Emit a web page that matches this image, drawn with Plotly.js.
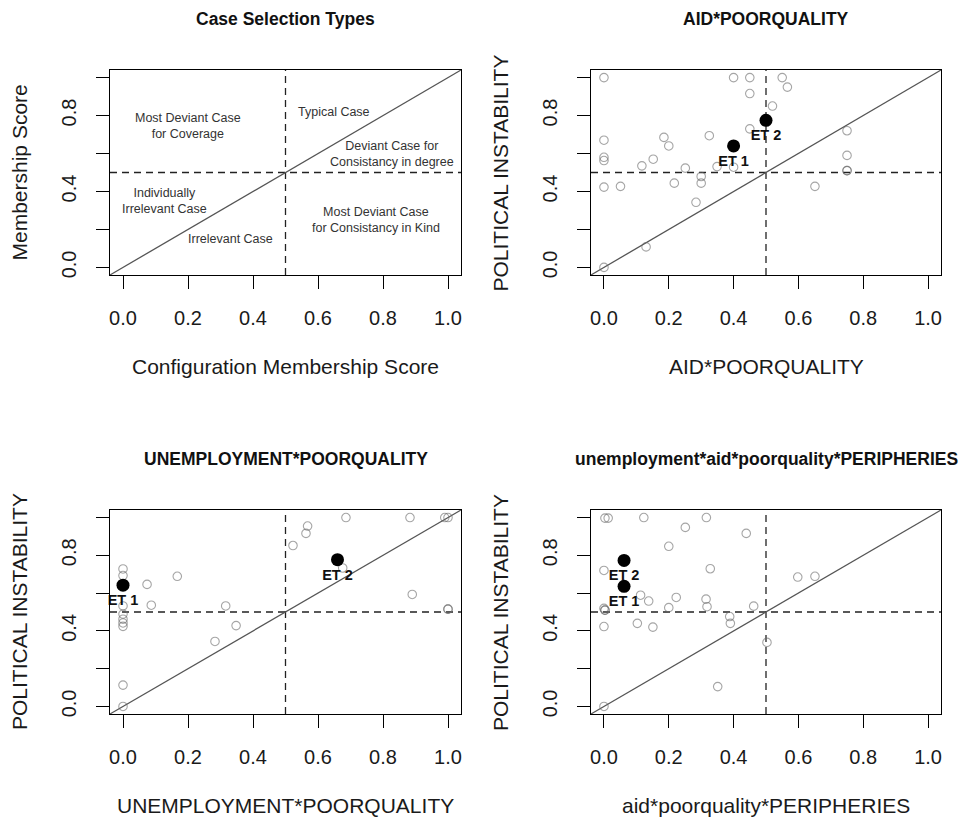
<!DOCTYPE html>
<html>
<head>
<meta charset="utf-8">
<script src="https://cdn.plot.ly/plotly-3.0.1.min.js"></script>
<style>html,body{margin:0;padding:0;background:#fff;}#chart{width:965px;height:819px;}</style>
</head>
<body>
<div id="chart"></div>
<script>
// ---------- DATA ----------
const panelTitles = ["Case Selection Types", "AID*POORQUALITY", "UNEMPLOYMENT*POORQUALITY", "unemployment*aid*poorquality*PERIPHERIES"];
const xTitles = ["Configuration Membership Score", "AID*POORQUALITY", "UNEMPLOYMENT*POORQUALITY", "aid*poorquality*PERIPHERIES"];
const yTitles = ["Membership Score", "POLITICAL INSTABILITY", "POLITICAL INSTABILITY", "POLITICAL INSTABILITY"];

const tickVals = [0, 0.2, 0.4, 0.6, 0.8, 1.0];
const xTickText = ["0.0", "0.2", "0.4", "0.6", "0.8", "1.0"];
const yTickText = ["0.0", "", "0.4", "", "0.8", ""];
const threshold = [0.5];

// Panel 1: region labels
const regionLabels = ["Most Deviant Case<br>for Coverage", "Typical Case", "Deviant Case for<br>Consistancy in degree",
  "Individually<br>Irrelevant Case", "Irrelevant Case", "Most Deviant Case<br>for Consistancy in Kind"];
const regionX = [0.20, 0.648, 0.829, 0.128, 0.33, 0.777];
const regionY = [0.746, 0.817, 0.595, 0.35, 0.148, 0.249];

// Panel 2: AID*POORQUALITY
const p2x = [0, 0.4, 0.45, 0.55, 0.566, 0.45, 0.52, 0.45, 0, 0.185, 0.2, 0.325, 0, 0, 0.152, 0.117, 0.251, 0.349, 0.4, 0.3, 0.3, 0.217, 0, 0.051, 0.284, 0.13, 0, 0.75, 0.75, 0.75, 0.75, 0.651];
const p2y = [1, 1, 1, 1, 0.95, 0.916, 0.85, 0.73, 0.67, 0.685, 0.64, 0.694, 0.58, 0.563, 0.57, 0.535, 0.523, 0.531, 0.528, 0.479, 0.444, 0.444, 0.423, 0.427, 0.343, 0.108, 0, 0.72, 0.59, 0.51, 0.51, 0.427];
const p2etX = [0.4, 0.5];
const p2etY = [0.64, 0.775];

// Panel 3: UNEMPLOYMENT*POORQUALITY
const p3x = [0, 0, 0, 0, 0, 0, 0, 0, 0, 0.074, 0.087, 0.167, 0.316, 0.283, 0.348, 0.523, 0.563, 0.568, 0.686, 0.883, 0.99, 1.0, 0.676, 0.89, 1.0, 1.0];
const p3y = [0, 0.113, 0.728, 0.693, 0.532, 0.489, 0.462, 0.442, 0.424, 0.646, 0.536, 0.689, 0.532, 0.344, 0.428, 0.852, 0.916, 0.955, 1.0, 1.0, 1.0, 1.0, 0.733, 0.593, 0.515, 0.515];
const p3etX = [0, 0.66];
const p3etY = [0.642, 0.777];

// Panel 4: unemployment*aid*poorquality*PERIPHERIES
const p4x = [0, 0.003, 0.013, 0.123, 0.316, 0.251, 0.439, 0.2, 0.328, 0, 0.062, 0.113, 0.138, 0.223, 0.315, 0.2, 0.318, 0.462, 0, 0.003, 0.003, 0.388, 0.39, 0, 0.103, 0.151, 0.503, 0.351, 0.598, 0.651];
const p4y = [0, 0.997, 0.997, 1.0, 1.0, 0.948, 0.916, 0.848, 0.729, 0.72, 0.636, 0.589, 0.558, 0.577, 0.568, 0.523, 0.528, 0.531, 0.519, 0.51, 0.51, 0.476, 0.44, 0.423, 0.44, 0.42, 0.339, 0.105, 0.685, 0.689];
const p4etX = [0.062, 0.062];
const p4etY = [0.636, 0.773];

const etLabels = ["ET 1", "ET 2"];

// ---------- LAYOUT ----------
const W = 965, H = 819;
const FONT = "Liberation Sans, Arial, Helvetica, sans-serif";
const colBox = [[110, 461], [591, 941]];
const rowBox = [[70, 275], [510, 714]];
const boxes = [[0, 0], [1, 0], [0, 1], [1, 1]].map(([c, r]) => ({
  x: [colBox[c][0] / W, colBox[c][1] / W],
  y: [1 - rowBox[r][1] / H, 1 - rowBox[r][0] / H],
  px: colBox[c], py: rowBox[r]
}));

const layout = {
  width: W, height: H,
  margin: {l: 0, r: 0, t: 0, b: 0},
  paper_bgcolor: "#fff", plot_bgcolor: "#fff",
  showlegend: false,
  font: {family: FONT, color: "#111"},
  shapes: [], annotations: []
};

function axisX(b, anchor) {
  return {domain: b.x, anchor: anchor, range: [-0.04, 1.04], tickmode: "array", tickvals: tickVals, ticktext: xTickText,
    ticks: "outside", ticklen: 13, tickwidth: 1, tickcolor: "#000", showline: true, linecolor: "#000", linewidth: 1,
    mirror: true, showgrid: false, zeroline: false, ticklabelstandoff: 12,
    tickfont: {size: 20, color: "#1a1a1a", family: FONT}, fixedrange: true};
}
function axisY(b, anchor) {
  return {domain: b.y, anchor: anchor, range: [-0.04, 1.04], tickmode: "array", tickvals: tickVals, ticktext: yTickText,
    ticks: "outside", ticklen: 13, tickwidth: 1, tickcolor: "#000", showline: true, linecolor: "#000", linewidth: 1,
    mirror: true, showgrid: false, zeroline: false, tickangle: -90, ticklabelstandoff: 12,
    tickfont: {size: 20, color: "#1a1a1a", family: FONT}, fixedrange: true};
}

const data = [];
boxes.forEach((b, i) => {
  const n = i === 0 ? "" : String(i + 1);
  layout["xaxis" + n] = axisX(b, "y" + n);
  layout["yaxis" + n] = axisY(b, "x" + n);
  const xr = "x" + n, yr = "y" + n;
  // reference lines
  layout.shapes.push({type: "line", xref: xr, yref: yr + " domain", x0: threshold[0], x1: threshold[0], y0: 0, y1: 1,
    line: {color: "#222", width: 1.3, dash: "7px,5px"}, layer: "below"});
  layout.shapes.push({type: "line", xref: xr + " domain", yref: yr, x0: 0, x1: 1, y0: threshold[0], y1: threshold[0],
    line: {color: "#222", width: 1.3, dash: "7px,5px"}, layer: "below"});
  layout.shapes.push({type: "line", xref: xr + " domain", yref: yr + " domain", x0: 0, x1: 1, y0: 0, y1: 1,
    line: {color: "#555", width: 1.3}, layer: "below"});
  // titles
  const cx = (b.px[0] + b.px[1]) / 2 / W;
  const cy = 1 - (b.py[0] + b.py[1]) / 2 / H;
  layout.annotations.push({text: "<b>" + panelTitles[i] + "</b>", xref: "paper", yref: "paper", x: cx,
    y: 1 - (b.py[0] - 51) / H, xanchor: "center", yanchor: "middle", showarrow: false,
    font: {size: 17.5, color: "#111", family: FONT}});
  layout.annotations.push({text: xTitles[i], xref: "paper", yref: "paper", x: cx,
    y: 1 - (b.py[1] + 91) / H, xanchor: "center", yanchor: "middle", showarrow: false,
    font: {size: 21, color: "#1a1a1a", family: FONT}});
  layout.annotations.push({text: yTitles[i], xref: "paper", yref: "paper", x: (b.px[0] - 91) / W,
    y: cy, xanchor: "center", yanchor: "middle", textangle: -90, showarrow: false,
    font: {size: 21, color: "#1a1a1a", family: FONT}});
});

// panel 1 region labels
regionLabels.forEach((t, k) => {
  layout.annotations.push({text: t, xref: "x", yref: "y", x: regionX[k], y: regionY[k], showarrow: false,
    xanchor: "center", yanchor: "middle", font: {size: 12.5, color: "#333", family: FONT}});
});
// empty trace to keep axis 1 drawn
data.push({type: "scatter", x: [], y: [], xaxis: "x", yaxis: "y", mode: "markers", hoverinfo: "skip"});

const openMarker = {symbol: "circle-open", size: 8.5, color: "rgba(105,105,105,0.6)", line: {width: 1.1}};
const panelsPts = [[p2x, p2y, p2etX, p2etY], [p3x, p3y, p3etX, p3etY], [p4x, p4y, p4etX, p4etY]];
panelsPts.forEach((p, k) => {
  const n = String(k + 2);
  data.push({type: "scatter", mode: "markers", x: p[0], y: p[1], xaxis: "x" + n, yaxis: "y" + n,
    marker: openMarker, cliponaxis: false, hoverinfo: "x+y"});
  data.push({type: "scatter", mode: "markers+text", x: p[2], y: p[3], xaxis: "x" + n, yaxis: "y" + n,
    text: etLabels, textposition: "bottom center", cliponaxis: false,
    textfont: {size: 14.5, color: "#111", family: FONT, weight: "bold"},
    marker: {symbol: "circle", size: 13, color: "#000"}, hoverinfo: "text"});
});

Plotly.newPlot("chart", data, layout, {displayModeBar: false, staticPlot: true});
</script>
</body>
</html>
